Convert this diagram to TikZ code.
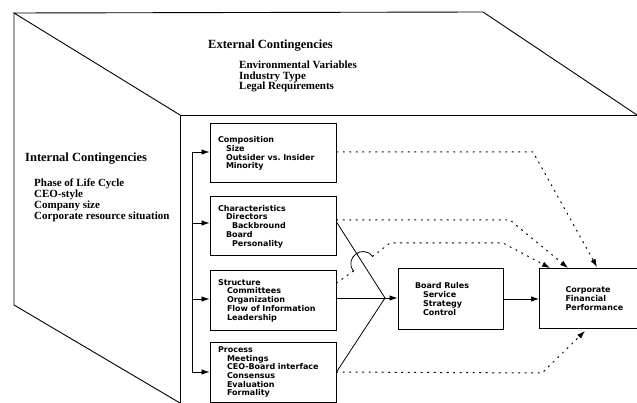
\documentclass[tikz,border=0pt]{standalone}
\usepackage{fontspec}
\setmainfont{Liberation Serif}
\newfontfamily\boxfont{DejaVu Sans}
\usetikzlibrary{arrows.meta}
\begin{document}
\begin{tikzpicture}[x=1pt,y=-1pt,
  frame/.style={line width=0.9pt},
  solid line/.style={line width=0.8pt},
  bx/.style={draw, line width=1pt, minimum height=59pt, inner xsep=8pt, align=left,
    font=\boxfont\bfseries\fontsize{8}{8.7}\selectfont},
  arr/.style={-{Latex[length=8pt,width=5.5pt]}, line width=0.8pt},
  dot/.style={line width=1pt, dash pattern=on 1.3pt off 5.2pt, line cap=round},
  dotarr/.style={dot, -{Latex[length=8pt,width=5.5pt]}},
  ctext/.style={font=\bfseries\fontsize{12.5}{14}\selectfont, anchor=base west, inner sep=0pt},
  ltext/.style={font=\bfseries\fontsize{11}{12}\selectfont, anchor=base west, inner sep=0pt}]
\useasboundingbox (0,0) rectangle (637,403);

% frame of the 3D box
\coordinate (tl) at (14,13);
\coordinate (tr) at (483,12);
\coordinate (fr) at (637,115);
\coordinate (frx) at (645,115);
\coordinate (fl) at (180,115);
\coordinate (bl) at (14,305);
\coordinate (fb) at (180,403);
\draw[frame] (fl) -- (tl) -- (tr) -- (fr);
\draw[frame] (fl) -- (frx);
\draw[frame] (tl) -- (bl) -- (fb);
\draw[frame] (fl) -- (fb);

% contingency texts
\node[ctext] (ech) at (208,49) {External Contingencies};
\node[ltext] (ec1) at (239,69) {Environmental Variables};
\node[ltext] (ec2) at (239,79.5) {Industry Type};
\node[ltext] (ec3) at (239,90) {Legal Requirements};

\node[ctext] (ich) at (25,162) {Internal Contingencies};
\node[ltext] (ic1) at (34,187) {Phase of Life Cycle};
\node[ltext] (ic2) at (34,198) {CEO-style};
\node[ltext] (ic3) at (34,209) {Company size};
\node[ltext] (ic4) at (34,220) {Corporate resource situation};

% boxes
\node[bx, minimum width=126pt, text width=110pt] (comp) at (273,153.5)
  {Composition\\\hspace*{8pt}Size\\\hspace*{8pt}Outsider vs.\ Insider\\\hspace*{8pt}Minority};
\node[bx, minimum width=126pt, text width=110pt] (char) at (273,226.5)
  {Characteristics\\\hspace*{8pt}Directors\\\hspace*{14pt}Backbround\\\hspace*{8pt}Board\\\hspace*{14pt}Personality};
\node[bx, minimum width=126pt, text width=110pt] (struct) at (273,300.5)
  {Structure\\\hspace*{9pt}Committees\\\hspace*{9pt}Organization\\\hspace*{9pt}Flow of Information\\\hspace*{9pt}Leadership};
\node[bx, minimum width=126pt, text width=110pt, minimum height=60pt] (proc) at (273,372)
  {Process\\\hspace*{9pt}Meetings\\\hspace*{9pt}CEO-Board interface\\\hspace*{9pt}Consensus\\\hspace*{9pt}Evaluation\\\hspace*{9pt}Formality};
\node[bx, minimum width=105pt, inner xsep=17pt, text width=71pt, minimum height=60pt] (rules) at (450.5,299)
  {Board Rules\\\hspace*{8pt}Service\\\hspace*{8pt}Strategy\\\hspace*{8pt}Control};
\node[bx, anchor=west, minimum width=110pt, inner xsep=26pt, text width=58pt] (cfp) at (539,298.5)
  {Corporate\\Financial\\Performance};

% trunk on the left
\coordinate (t1) at (192,152);
\coordinate (t2) at (192,223);
\coordinate (t3) at (192,299);
\coordinate (t4) at (192,372);
\draw[solid line] (t1) -- (t4);
\draw[arr] (t1) -- (t1 -| comp.west);
\draw[arr] (t2) -- (t2 -| char.west);
\draw[arr] (t3) -- (t3 -| struct.west);
\draw[arr] (t4) -- (t4 -| proc.west);

% converging solid lines
\coordinate (cv) at (385,298);
\draw[solid line] ([yshift=4.5pt]char.east) -- (cv);
\draw[solid line] ([yshift=2.5pt]struct.east) -- (cv);
\draw[solid line] (proc.east) -- (cv);
\draw[arr] (cv) -- (cv -| rules.west);
\draw[arr] (rules.east) -- (rules.east -| cfp.west);

% dotted influences
\coordinate (c1) at (533,152);
\coordinate (e1) at (597,267);
\draw[dotarr] ([yshift=1.5pt]comp.east) -- (c1) -- (e1);

\coordinate (c2) at (510,220);
\coordinate (e2) at (568,268);
\draw[dotarr] ([yshift=6.5pt]char.east) -- (c2) -- (e2);

\coordinate (hs) at (353.5,271);
\coordinate (he) at (372.5,256.4);
\coordinate (c3a) at (390,243);
\coordinate (c3b) at (503,243);
\coordinate (e3) at (550,268);
\draw[dot] ([yshift=17.5pt]struct.east) -- (hs);
\draw[solid line] (hs) .. controls (343.7,258.3) and (362.7,243.7) .. (he);
\draw[dotarr] (he) -- (c3a) -- (c3b) -- (e3);

\coordinate (c4) at (542,373);
\coordinate (e4) at (585,331);
\draw[dotarr] (proc.east) -- (c4) -- (e4);
\end{tikzpicture}
\end{document}
